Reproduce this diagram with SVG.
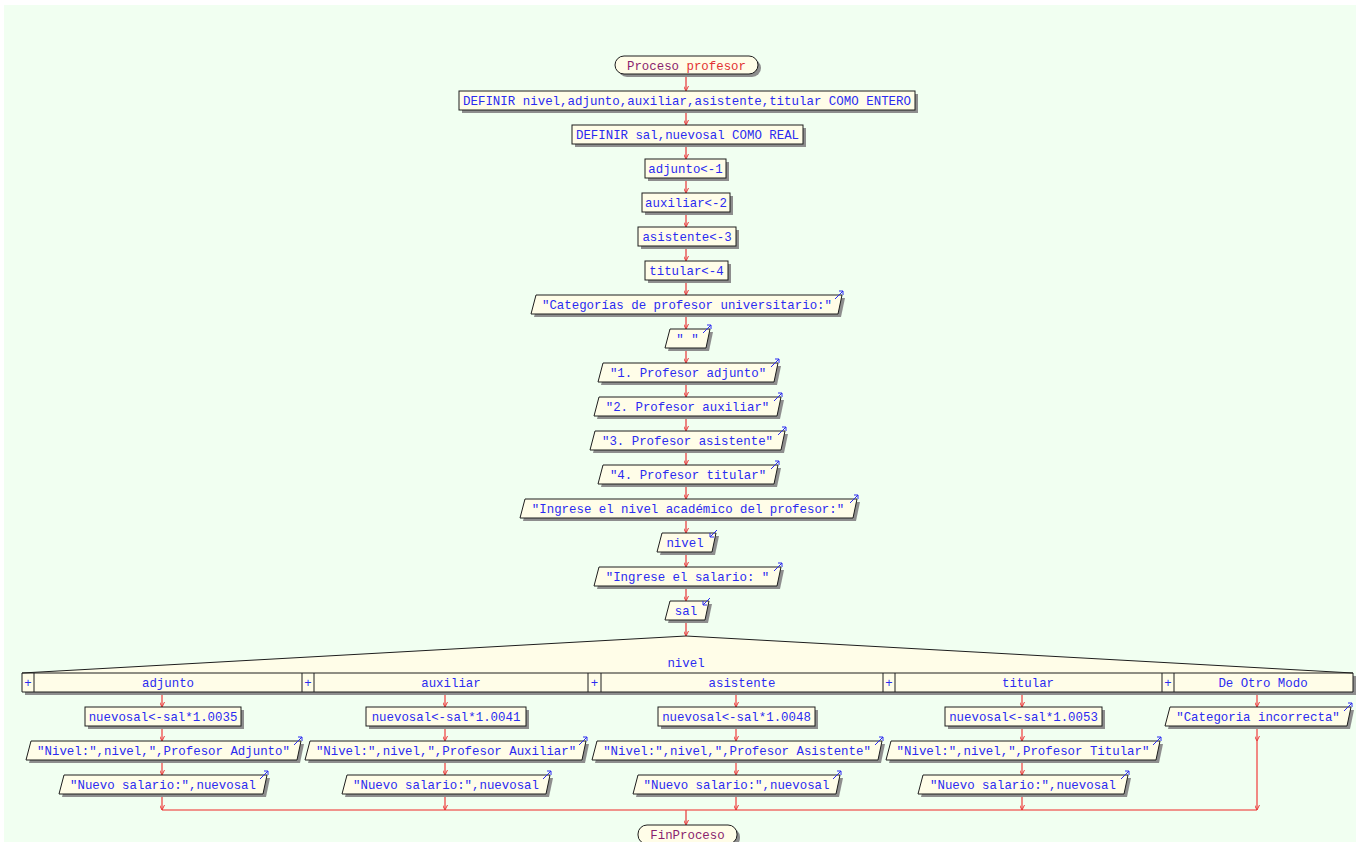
<svg xmlns="http://www.w3.org/2000/svg" xmlns:xlink="http://www.w3.org/1999/xlink" width="1356" height="842" viewBox="0 0 1356 842">
  <style>
    .box { fill: #fffde8; stroke: #1e1e1e; stroke-width: 1; }
    .sh { fill: #8e8e8e; }
    .t { font-family: "Liberation Mono", "DejaVu Sans Mono", monospace; font-size: 12.4px; fill: #2b2bf0; text-anchor: middle; }
    .tp { font-family: "Liberation Mono", "DejaVu Sans Mono", monospace; font-size: 12.4px; fill: #8a1f6e; text-anchor: middle; }
    .flow { stroke: #e85050; stroke-width: 1.4; fill: none; }
    .br { stroke: #f02828; stroke-width: 1.1; fill: none; }
    .io { stroke: #2b2bf0; stroke-width: 1; fill: none; }
    .cell { stroke: #1e1e1e; stroke-width: 1; fill: none; }
  </style>
  <defs>
    <marker id="ah" viewBox="0 0 10 10" refX="10" refY="5" markerWidth="5" markerHeight="5" markerUnits="userSpaceOnUse" orient="auto">
      <path d="M0,0 L10,5 L0,10" fill="none" stroke="#e83c3c" stroke-width="2"/>
    </marker>
  </defs>

  <!-- canvas -->
  <rect x="0" y="0" width="1356" height="842" fill="#ffffff"/>
  <rect x="4" y="5" width="1352" height="837" fill="#f1fff1"/>

  <!-- connectors -->
  <g id="connectors">
    <g class="flow" marker-end="url(#ah)">
      <line x1="686" y1="74" x2="686" y2="91"/>
      <line x1="686" y1="110" x2="686" y2="125"/>
      <line x1="686" y1="144" x2="686" y2="159"/>
      <line x1="686" y1="178" x2="686" y2="193"/>
      <line x1="686" y1="212" x2="686" y2="227"/>
      <line x1="686" y1="246" x2="686" y2="261"/>
      <line x1="686" y1="280" x2="686" y2="295"/>
      <line x1="686" y1="314" x2="686" y2="329"/>
      <line x1="686" y1="348" x2="686" y2="363"/>
      <line x1="686" y1="382" x2="686" y2="397"/>
      <line x1="686" y1="416" x2="686" y2="431"/>
      <line x1="686" y1="450" x2="686" y2="465"/>
      <line x1="686" y1="484" x2="686" y2="499"/>
      <line x1="686" y1="518" x2="686" y2="533"/>
      <line x1="686" y1="552" x2="686" y2="567"/>
      <line x1="686" y1="586" x2="686" y2="601"/>
      <line x1="686" y1="620" x2="686" y2="636"/>
    </g>
    <g class="br" marker-end="url(#ah)">
      <!-- adjunto -->
      <line x1="162" y1="692" x2="162" y2="707"/>
      <line x1="162" y1="726" x2="162" y2="741"/>
      <line x1="162" y1="760" x2="162" y2="775"/>
      <line x1="162" y1="794" x2="162" y2="810"/>
      <!-- auxiliar -->
      <line x1="445" y1="692" x2="445" y2="707"/>
      <line x1="445" y1="726" x2="445" y2="741"/>
      <line x1="445" y1="760" x2="445" y2="775"/>
      <line x1="445" y1="794" x2="445" y2="810"/>
      <!-- asistente -->
      <line x1="736" y1="692" x2="736" y2="707"/>
      <line x1="736" y1="726" x2="736" y2="741"/>
      <line x1="736" y1="760" x2="736" y2="775"/>
      <line x1="736" y1="794" x2="736" y2="810"/>
      <!-- titular -->
      <line x1="1022" y1="692" x2="1022" y2="707"/>
      <line x1="1022" y1="726" x2="1022" y2="741"/>
      <line x1="1022" y1="760" x2="1022" y2="775"/>
      <line x1="1022" y1="794" x2="1022" y2="810"/>
      <!-- de otro modo -->
      <line x1="1257" y1="692" x2="1257" y2="707"/>
      <line x1="1257" y1="726" x2="1257" y2="741"/>
      <line x1="1257" y1="741" x2="1257" y2="810"/>
    </g>
    <line class="br" x1="162" y1="810" x2="1257" y2="810"/>
    <line class="flow" x1="686" y1="810" x2="686" y2="825" marker-end="url(#ah)"/>
  </g>

  <!-- start -->
  <g id="inicio">
    <rect class="sh" x="618" y="59" width="143" height="18" rx="9"/>
    <rect class="box" x="615" y="56" width="143" height="18" rx="9"/>
    <text x="686.5" y="69.5" class="tp">Proceso <tspan fill="#e23232">profesor</tspan></text>
  </g>

  <g id="definir1">
    <rect class="sh" x="462" y="94" width="456" height="19"/>
    <rect class="box" x="459" y="91" width="456" height="19"/>
    <text x="687" y="105" class="t" textLength="448" lengthAdjust="spacingAndGlyphs">DEFINIR nivel,adjunto,auxiliar,asistente,titular COMO ENTERO</text>
  </g>
  <g id="definir2">
    <rect class="sh" x="575" y="128" width="231" height="19"/>
    <rect class="box" x="572" y="125" width="231" height="19"/>
    <text x="687.5" y="139" class="t">DEFINIR sal,nuevosal COMO REAL</text>
  </g>
  <g id="asig-adjunto">
    <rect class="sh" x="648" y="162" width="81" height="19"/>
    <rect class="box" x="645" y="159" width="81" height="19"/>
    <text x="685.5" y="173" class="t">adjunto&lt;-1</text>
  </g>
  <g id="asig-auxiliar">
    <rect class="sh" x="645" y="196" width="88" height="19"/>
    <rect class="box" x="642" y="193" width="88" height="19"/>
    <text x="686" y="207" class="t">auxiliar&lt;-2</text>
  </g>
  <g id="asig-asistente">
    <rect class="sh" x="641" y="230" width="98" height="19"/>
    <rect class="box" x="638" y="227" width="98" height="19"/>
    <text x="687" y="241" class="t">asistente&lt;-3</text>
  </g>
  <g id="asig-titular">
    <rect class="sh" x="648" y="264" width="83" height="19"/>
    <rect class="box" x="645" y="261" width="83" height="19"/>
    <text x="686.5" y="275" class="t">titular&lt;-4</text>
  </g>

  <!-- output nodes: parallelogram + blue arrow at top right -->
  <g id="esc-categorias">
    <path class="sh" d="M539,298 L845,298 L841,317 L534,317 Z"/>
    <path class="box" d="M536,295 L842,295 L838,314 L531,314 Z"/>
    <path class="io" d="M835,299 L843,291 M839,291 L843,291 L843,295"/>
    <text x="687" y="309" class="t">"Categorías de profesor universitario:"</text>
  </g>
  <g id="esc-vacio">
    <path class="sh" d="M673,332 L713,332 L709,351 L668,351 Z"/>
    <path class="box" d="M670,329 L710,329 L706,348 L665,348 Z"/>
    <path class="io" d="M703,333 L711,325 M707,325 L711,325 L711,329"/>
    <text x="687.5" y="343" class="t">" "</text>
  </g>
  <g id="esc-1">
    <path class="sh" d="M606,366 L781,366 L777,385 L601,385 Z"/>
    <path class="box" d="M603,363 L778,363 L774,382 L598,382 Z"/>
    <path class="io" d="M771,367 L779,359 M775,359 L779,359 L779,363"/>
    <text x="688" y="377" class="t">"1. Profesor adjunto"</text>
  </g>
  <g id="esc-2">
    <path class="sh" d="M602,400 L784,400 L780,419 L597,419 Z"/>
    <path class="box" d="M599,397 L781,397 L777,416 L594,416 Z"/>
    <path class="io" d="M774,401 L782,393 M778,393 L782,393 L782,397"/>
    <text x="687.5" y="411" class="t">"2. Profesor auxiliar"</text>
  </g>
  <g id="esc-3">
    <path class="sh" d="M598,434 L788,434 L784,453 L593,453 Z"/>
    <path class="box" d="M595,431 L785,431 L781,450 L590,450 Z"/>
    <path class="io" d="M778,435 L786,427 M782,427 L786,427 L786,431"/>
    <text x="687.5" y="445" class="t">"3. Profesor asistente"</text>
  </g>
  <g id="esc-4">
    <path class="sh" d="M606,468 L781,468 L777,487 L601,487 Z"/>
    <path class="box" d="M603,465 L778,465 L774,484 L598,484 Z"/>
    <path class="io" d="M771,469 L779,461 M775,461 L779,461 L779,465"/>
    <text x="688" y="479" class="t">"4. Profesor titular"</text>
  </g>
  <g id="esc-nivel">
    <path class="sh" d="M528,502 L860,502 L856,521 L523,521 Z"/>
    <path class="box" d="M525,499 L857,499 L853,518 L520,518 Z"/>
    <path class="io" d="M850,503 L858,495 M854,495 L858,495 L858,499"/>
    <text x="688" y="513" class="t">"Ingrese el nivel académico del profesor:"</text>
  </g>
  <g id="leer-nivel">
    <path class="sh" d="M665,536 L719,536 L715,555 L660,555 Z"/>
    <path class="box" d="M662,533 L716,533 L712,552 L657,552 Z"/>
    <path class="io" d="M717,530 L710,537 M710,533 L710,537 L714,537"/>
    <text x="685" y="547" class="t">nivel</text>
  </g>
  <g id="esc-salario">
    <path class="sh" d="M602,570 L784,570 L780,589 L597,589 Z"/>
    <path class="box" d="M599,567 L781,567 L777,586 L594,586 Z"/>
    <path class="io" d="M774,571 L782,563 M778,563 L782,563 L782,567"/>
    <text x="687.5" y="581" class="t">"Ingrese el salario: "</text>
  </g>
  <g id="leer-sal">
    <path class="sh" d="M673,604 L712,604 L708,623 L668,623 Z"/>
    <path class="box" d="M670,601 L709,601 L705,620 L665,620 Z"/>
    <path class="io" d="M710,598 L703,605 M703,601 L703,605 L707,605"/>
    <text x="686" y="615" class="t">sal</text>
  </g>

  <!-- selection on nivel -->
  <g id="segun-nivel">
    <path class="sh" d="M25,676 L689,639 L1356,676 L1356,695 L25,695 Z"/>
    <path class="box" d="M22,673 L686,636 L1353,673 L1353,692 L22,692 Z"/>
    <line class="cell" x1="22" y1="673" x2="1353" y2="673"/>
    <g class="cell">
      <line x1="34" y1="673" x2="34" y2="692"/>
      <line x1="302" y1="673" x2="302" y2="692"/>
      <line x1="314" y1="673" x2="314" y2="692"/>
      <line x1="588" y1="673" x2="588" y2="692"/>
      <line x1="601" y1="673" x2="601" y2="692"/>
      <line x1="883" y1="673" x2="883" y2="692"/>
      <line x1="895" y1="673" x2="895" y2="692"/>
      <line x1="1162" y1="673" x2="1162" y2="692"/>
      <line x1="1174" y1="673" x2="1174" y2="692"/>
    </g>
    <text x="686" y="667" class="t">nivel</text>
    <text x="28" y="687" class="t">+</text>
    <text x="168" y="687" class="t">adjunto</text>
    <text x="308" y="687" class="t">+</text>
    <text x="451" y="687" class="t">auxiliar</text>
    <text x="594.5" y="687" class="t">+</text>
    <text x="742" y="687" class="t">asistente</text>
    <text x="889" y="687" class="t">+</text>
    <text x="1028" y="687" class="t">titular</text>
    <text x="1168" y="687" class="t">+</text>
    <text x="1263" y="687" class="t">De Otro Modo</text>
  </g>

  <!-- branch: adjunto -->
  <g id="adj-calc">
    <rect class="sh" x="88" y="710" width="156" height="19"/>
    <rect class="box" x="85" y="707" width="156" height="19"/>
    <text x="163" y="721" class="t">nuevosal&lt;-sal*1.0035</text>
  </g>
  <g id="adj-nivel">
    <path class="sh" d="M34,744 L304,744 L300,763 L29,763 Z"/>
    <path class="box" d="M31,741 L301,741 L297,760 L26,760 Z"/>
    <path class="io" d="M294,745 L302,737 M298,737 L302,737 L302,741"/>
    <text x="163.5" y="755" class="t">"Nivel:",nivel,",Profesor Adjunto"</text>
  </g>
  <g id="adj-salario">
    <path class="sh" d="M67,778 L270,778 L266,797 L62,797 Z"/>
    <path class="box" d="M64,775 L267,775 L263,794 L59,794 Z"/>
    <path class="io" d="M260,779 L268,771 M264,771 L268,771 L268,775"/>
    <text x="163" y="789" class="t">"Nuevo salario:",nuevosal</text>
  </g>

  <!-- branch: auxiliar -->
  <g id="aux-calc">
    <rect class="sh" x="369" y="710" width="160" height="19"/>
    <rect class="box" x="366" y="707" width="160" height="19"/>
    <text x="446" y="721" class="t">nuevosal&lt;-sal*1.0041</text>
  </g>
  <g id="aux-nivel">
    <path class="sh" d="M313,744 L589,744 L585,763 L308,763 Z"/>
    <path class="box" d="M310,741 L586,741 L582,760 L305,760 Z"/>
    <path class="io" d="M579,745 L587,737 M583,737 L587,737 L587,741"/>
    <text x="446" y="755" class="t">"Nivel:",nivel,",Profesor Auxiliar"</text>
  </g>
  <g id="aux-salario">
    <path class="sh" d="M350,778 L553,778 L549,797 L345,797 Z"/>
    <path class="box" d="M347,775 L550,775 L546,794 L342,794 Z"/>
    <path class="io" d="M543,779 L551,771 M547,771 L551,771 L551,775"/>
    <text x="446" y="789" class="t">"Nuevo salario:",nuevosal</text>
  </g>

  <!-- branch: asistente -->
  <g id="asi-calc">
    <rect class="sh" x="661" y="710" width="157" height="19"/>
    <rect class="box" x="658" y="707" width="157" height="19"/>
    <text x="736.5" y="721" class="t">nuevosal&lt;-sal*1.0048</text>
  </g>
  <g id="asi-nivel">
    <path class="sh" d="M600,744 L885,744 L881,763 L595,763 Z"/>
    <path class="box" d="M597,741 L882,741 L878,760 L592,760 Z"/>
    <path class="io" d="M875,745 L883,737 M879,737 L883,737 L883,741"/>
    <text x="737" y="755" class="t">"Nivel:",nivel,",Profesor Asistente"</text>
  </g>
  <g id="asi-salario">
    <path class="sh" d="M641,778 L843,778 L839,797 L636,797 Z"/>
    <path class="box" d="M638,775 L840,775 L836,794 L633,794 Z"/>
    <path class="io" d="M833,779 L841,771 M837,771 L841,771 L841,775"/>
    <text x="736.5" y="789" class="t">"Nuevo salario:",nuevosal</text>
  </g>

  <!-- branch: titular -->
  <g id="tit-calc">
    <rect class="sh" x="948" y="710" width="157" height="19"/>
    <rect class="box" x="945" y="707" width="157" height="19"/>
    <text x="1023.5" y="721" class="t">nuevosal&lt;-sal*1.0053</text>
  </g>
  <g id="tit-nivel">
    <path class="sh" d="M894,744 L1163,744 L1159,763 L889,763 Z"/>
    <path class="box" d="M891,741 L1160,741 L1156,760 L886,760 Z"/>
    <path class="io" d="M1153,745 L1161,737 M1157,737 L1161,737 L1161,741"/>
    <text x="1023" y="755" class="t">"Nivel:",nivel,",Profesor Titular"</text>
  </g>
  <g id="tit-salario">
    <path class="sh" d="M926,778 L1131,778 L1127,797 L921,797 Z"/>
    <path class="box" d="M923,775 L1128,775 L1124,794 L918,794 Z"/>
    <path class="io" d="M1121,779 L1129,771 M1125,771 L1129,771 L1129,775"/>
    <text x="1023" y="789" class="t">"Nuevo salario:",nuevosal</text>
  </g>

  <!-- branch: de otro modo -->
  <g id="otro-msg">
    <path class="sh" d="M1173,710 L1354,710 L1350,729 L1168,729 Z"/>
    <path class="box" d="M1170,707 L1351,707 L1347,726 L1165,726 Z"/>
    <path class="io" d="M1344,711 L1352,703 M1348,703 L1352,703 L1352,707"/>
    <text x="1258" y="721" class="t">"Categoria incorrecta"</text>
  </g>

  <!-- end -->
  <g id="fin">
    <rect class="sh" x="641" y="828" width="99" height="19" rx="9"/>
    <rect class="box" x="638" y="825" width="99" height="19" rx="9"/>
    <text x="687.5" y="839" class="tp">FinProceso</text>
  </g>
</svg>
